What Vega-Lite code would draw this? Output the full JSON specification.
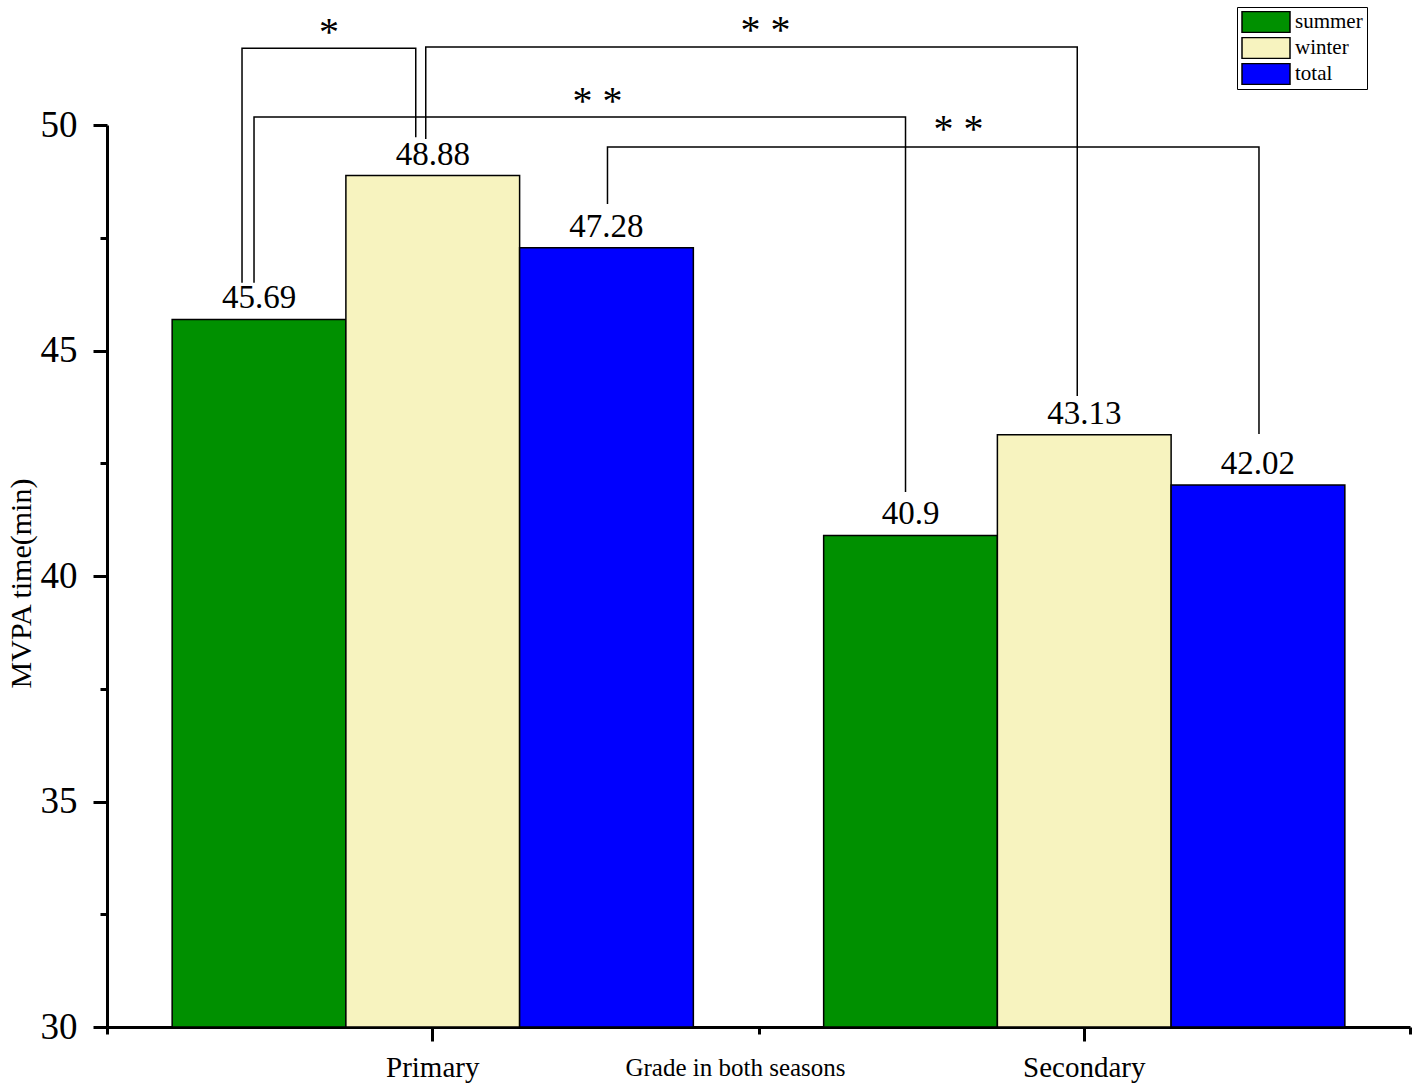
{
  "$schema": "https://vega.github.io/schema/vega-lite/v6.json",
  "width": 1303,
  "height": 902,
  "autosize": {"type": "none"},
  "padding": {"left": 107, "top": 125, "right": 8, "bottom": 65},
  "background": "white",
  "config": {"view": {"stroke": null}, "font": "Liberation Serif", "text": {"font": "Liberation Serif", "color": "black"}},
  "datasets": {
    "bars": [
      {"group": "Primary", "season": "summer", "value": 45.69},
      {"group": "Primary", "season": "winter", "value": 48.88},
      {"group": "Primary", "season": "total", "value": 47.28},
      {"group": "Secondary", "season": "summer", "value": 40.9},
      {"group": "Secondary", "season": "winter", "value": 43.13},
      {"group": "Secondary", "season": "total", "value": 42.02}
    ],
    "brackets": [
      {"b": 1, "o": 1, "group": "Primary", "season": "summer", "v": 46.5},
      {"b": 1, "o": 2, "group": "Primary", "season": "summer", "v": 51.7},
      {"b": 1, "o": 3, "group": "Primary", "season": "winter", "v": 51.7},
      {"b": 1, "o": 4, "group": "Primary", "season": "winter", "v": 49.73},
      {"b": 2, "o": 1, "group": "Primary", "season": "winter", "v": 49.69},
      {"b": 2, "o": 2, "group": "Primary", "season": "winter", "v": 51.73},
      {"b": 2, "o": 3, "group": "Secondary", "season": "winter", "v": 51.73},
      {"b": 2, "o": 4, "group": "Secondary", "season": "winter", "v": 43.99},
      {"b": 3, "o": 1, "group": "Primary", "season": "summer", "v": 46.5},
      {"b": 3, "o": 2, "group": "Primary", "season": "summer", "v": 50.18},
      {"b": 3, "o": 3, "group": "Secondary", "season": "summer", "v": 50.18},
      {"b": 3, "o": 4, "group": "Secondary", "season": "summer", "v": 41.86},
      {"b": 4, "o": 1, "group": "Primary", "season": "total", "v": 48.25},
      {"b": 4, "o": 2, "group": "Primary", "season": "total", "v": 49.51},
      {"b": 4, "o": 3, "group": "Secondary", "season": "total", "v": 49.51},
      {"b": 4, "o": 4, "group": "Secondary", "season": "total", "v": 43.15}
    ],
    "stars": [
      {"b": 1, "group": "Primary", "season": "summer", "v": 51.7, "label": "*"},
      {"b": 2, "group": "Secondary", "season": "summer", "v": 51.73, "label": "* *"},
      {"b": 3, "group": "Primary", "season": "total", "v": 50.18, "label": "* *"},
      {"b": 4, "group": "Secondary", "season": "summer", "v": 49.51, "label": "* *"}
    ]
  },
  "resolve": {"axis": {"x": "independent", "y": "independent"}, "scale": {"xOffset": "independent"}},
  "layer": [
    {
      "data": {"name": "bars"},
      "mark": {"type": "bar", "stroke": "black", "strokeWidth": 1.5},
      "encoding": {
        "x": {
          "field": "group", "type": "nominal",
          "scale": {"domain": ["Primary", "Secondary"], "paddingInner": 0, "paddingOuter": 0},
          "axis": {
            "orient": "bottom", "title": "Grade in both seasons", "labelAngle": 0,
            "labelFont": "Liberation Serif", "labelFontSize": 29, "labelColor": "black", "labelPadding": 12,
            "tickSize": 14, "tickWidth": 3, "tickColor": "black", "domainWidth": 3, "domainColor": "black",
            "titleFont": "Liberation Serif", "titleFontSize": 25, "titleFontWeight": "normal", "titleColor": "black",
            "titleX": 628, "titleY": 48, "titleBaseline": "alphabetic", "titleAlign": "center"
          }
        },
        "xOffset": {"field": "season", "type": "nominal", "scale": {"type": "band", "domain": ["summer", "winter", "total"], "paddingInner": 0, "paddingOuter": 0.375}},
        "y": {
          "field": "value", "type": "quantitative",
          "scale": {"domain": [30, 50], "nice": false, "zero": false},
          "axis": {
            "orient": "left", "values": [30, 35, 40, 45, 50], "grid": false,
            "labelFont": "Liberation Serif", "labelFontSize": 37, "labelColor": "black", "labelPadding": 16,
            "tickSize": 14, "tickWidth": 3, "tickColor": "black", "domainWidth": 3, "domainColor": "black",
            "title": "MVPA time(min)", "titleFont": "Liberation Serif", "titleFontSize": 30, "titleFontWeight": "normal",
            "titleColor": "black", "titlePadding": 4, "titleY": 458
          }
        },
        "y2": {"datum": 30},
        "color": {
          "field": "season", "type": "nominal",
          "scale": {"domain": ["summer", "winter", "total"], "range": ["#009000", "#F7F3BF", "#0000FF"]},
          "legend": {
            "title": null, "orient": "none", "legendX": 1130, "legendY": -118,
            "symbolType": "M-1,-0.44H1V0.44H-1Z", "symbolSize": 2304,
            "symbolStrokeColor": "black", "symbolStrokeWidth": 1.5, "symbolOpacity": 1,
            "labelFont": "Liberation Serif", "labelFontSize": 21, "labelColor": "black", "labelOffset": 4,
            "strokeColor": "black", "padding": 4, "clipHeight": 22, "rowPadding": 4
          }
        }
      }
    },
    {
      "data": {"name": "bars"},
      "mark": {"type": "text", "baseline": "bottom", "dy": -4, "fontSize": 33, "font": "Liberation Serif", "color": "black"},
      "encoding": {
        "x": {
          "field": "group", "type": "nominal",
          "axis": {"orient": "bottom", "tickBand": "extent", "labels": false, "title": null, "domain": false,
                   "tickSize": 7, "tickWidth": 3, "tickColor": "black"}
        },
        "xOffset": {"field": "season", "type": "nominal", "scale": {"type": "band", "domain": ["summer", "winter", "total"], "paddingInner": 0, "paddingOuter": 0.375}},
        "y": {
          "field": "value", "type": "quantitative",
          "axis": {"orient": "left", "values": [32.5, 37.5, 42.5, 47.5], "labels": false, "title": null, "domain": false,
                   "grid": false, "tickSize": 7, "tickWidth": 3, "tickColor": "black"}
        },
        "text": {"field": "value", "type": "quantitative"}
      }
    },
    {
      "data": {"name": "brackets"},
      "transform": [{"filter": "datum.b == 1"}],
      "mark": {"type": "line", "color": "black", "strokeWidth": 1.5},
      "encoding": {
        "x": {"field": "group", "type": "nominal", "axis": null},
        "xOffset": {"field": "season", "type": "nominal", "scale": {"type": "band", "domain": ["summer", "winter", "total"], "paddingInner": 0, "paddingOuter": 0.375, "range": [-17, 634.5]}},
        "y": {"field": "v", "type": "quantitative", "axis": null},
        "order": {"field": "o", "type": "quantitative"}
      }
    },
    {
      "data": {"name": "brackets"},
      "transform": [{"filter": "datum.b == 2"}],
      "mark": {"type": "line", "color": "black", "strokeWidth": 1.5},
      "encoding": {
        "x": {"field": "group", "type": "nominal", "axis": null},
        "xOffset": {"field": "season", "type": "nominal", "scale": {"type": "band", "domain": ["summer", "winter", "total"], "paddingInner": 0, "paddingOuter": 0.375, "range": [-7, 644.5]}},
        "y": {"field": "v", "type": "quantitative", "axis": null},
        "order": {"field": "o", "type": "quantitative"}
      }
    },
    {
      "data": {"name": "brackets"},
      "transform": [{"filter": "datum.b == 3"}],
      "mark": {"type": "line", "color": "black", "strokeWidth": 1.5},
      "encoding": {
        "x": {"field": "group", "type": "nominal", "axis": null},
        "xOffset": {"field": "season", "type": "nominal", "scale": {"type": "band", "domain": ["summer", "winter", "total"], "paddingInner": 0, "paddingOuter": 0.375, "range": [-5, 646.5]}},
        "y": {"field": "v", "type": "quantitative", "axis": null},
        "order": {"field": "o", "type": "quantitative"}
      }
    },
    {
      "data": {"name": "brackets"},
      "transform": [{"filter": "datum.b == 4"}],
      "mark": {"type": "line", "color": "black", "strokeWidth": 1.5},
      "encoding": {
        "x": {"field": "group", "type": "nominal", "axis": null},
        "xOffset": {"field": "season", "type": "nominal", "scale": {"type": "band", "domain": ["summer", "winter", "total"], "paddingInner": 0, "paddingOuter": 0.375, "range": [1, 652.5]}},
        "y": {"field": "v", "type": "quantitative", "axis": null},
        "order": {"field": "o", "type": "quantitative"}
      }
    },
    {
      "data": {"name": "stars"},
      "transform": [{"filter": "datum.b == 1"}],
      "mark": {"type": "text", "baseline": "alphabetic", "dy": -3, "dx": 70, "fontSize": 40, "font": "Liberation Serif", "color": "black"},
      "encoding": {
        "x": {"field": "group", "type": "nominal", "axis": null},
        "xOffset": {"field": "season", "type": "nominal", "scale": {"type": "band", "domain": ["summer", "winter", "total"], "paddingInner": 0, "paddingOuter": 0.375}},
        "y": {"field": "v", "type": "quantitative", "axis": null},
        "text": {"field": "label"}
      }
    },
    {
      "data": {"name": "stars"},
      "transform": [{"filter": "datum.b == 2"}],
      "mark": {"type": "text", "baseline": "alphabetic", "dy": -4, "dx": -145, "fontSize": 40, "font": "Liberation Serif", "color": "black"},
      "encoding": {
        "x": {"field": "group", "type": "nominal", "axis": null},
        "xOffset": {"field": "season", "type": "nominal", "scale": {"type": "band", "domain": ["summer", "winter", "total"], "paddingInner": 0, "paddingOuter": 0.375}},
        "y": {"field": "v", "type": "quantitative", "axis": null},
        "text": {"field": "label"}
      }
    },
    {
      "data": {"name": "stars"},
      "transform": [{"filter": "datum.b == 3"}],
      "mark": {"type": "text", "baseline": "alphabetic", "dy": -3, "dx": -9, "fontSize": 40, "font": "Liberation Serif", "color": "black"},
      "encoding": {
        "x": {"field": "group", "type": "nominal", "axis": null},
        "xOffset": {"field": "season", "type": "nominal", "scale": {"type": "band", "domain": ["summer", "winter", "total"], "paddingInner": 0, "paddingOuter": 0.375}},
        "y": {"field": "v", "type": "quantitative", "axis": null},
        "text": {"field": "label"}
      }
    },
    {
      "data": {"name": "stars"},
      "transform": [{"filter": "datum.b == 4"}],
      "mark": {"type": "text", "baseline": "alphabetic", "dy": -5, "dx": 48, "fontSize": 40, "font": "Liberation Serif", "color": "black"},
      "encoding": {
        "x": {"field": "group", "type": "nominal", "axis": null},
        "xOffset": {"field": "season", "type": "nominal", "scale": {"type": "band", "domain": ["summer", "winter", "total"], "paddingInner": 0, "paddingOuter": 0.375}},
        "y": {"field": "v", "type": "quantitative", "axis": null},
        "text": {"field": "label"}
      }
    }
  ]
}
